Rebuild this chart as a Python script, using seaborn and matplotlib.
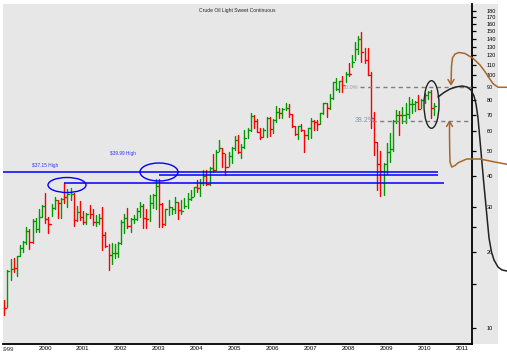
import matplotlib
matplotlib.use("Agg")
import matplotlib.pyplot as plt
import seaborn as sns
import pandas as pd
import numpy as np
from matplotlib.patches import Ellipse, Rectangle
from matplotlib.lines import Line2D
from matplotlib.ticker import NullLocator
from matplotlib.transforms import ScaledTranslation, Bbox, TransformedBbox

# monthly bars, Feb 1999 .. Jun 2010 (month 1 = Feb 1999)
highs = [
    12.9, 17.0, 18.8, 18.9, 19.3, 21.3, 22.1, 25.1, 24.7, 27.0, 27.3,            # 1999
    29.6, 30.7, 34.2, 27.5, 31.0, 33.0, 32.2, 32.7, 37.6, 35.5, 35.9, 34.2,      # 2000
    30.4, 31.8, 29.0, 28.6, 30.7, 29.6, 28.0, 28.3, 30.0, 24.0, 21.5, 21.7,      # 2001
    21.5, 21.9, 26.8, 28.3, 29.9, 27.3, 28.0, 29.9, 31.5, 31.0, 29.6, 33.6,      # 2002
    33.9, 39.0, 38.9, 31.2, 29.6, 32.2, 30.1, 33.0, 31.5, 32.2, 32.7, 34.2,      # 2003
    35.2, 36.2, 38.6, 38.9, 42.3, 42.3, 43.4, 48.9, 50.7, 55.5, 51.7, 48.9,      # 2004
    49.7, 52.0, 57.6, 58.0, 53.5, 60.7, 61.8, 71.0, 70.0, 67.3, 61.8, 61.8,      # 2005
    68.5, 68.5, 67.3, 75.6, 74.4, 74.4, 78.0, 76.9, 70.4, 63.3, 63.3, 64.0,      # 2006
    61.0, 61.8, 68.0, 66.8, 66.8, 71.0, 78.0, 78.0, 84.6, 94.4, 97.8, 95.3,      # 2007
    99.6, 103.4, 112.0, 120.8, 135.8, 143.0, 148.6, 128.5, 128.5, 103.4, 71.6, 54.6,  # 2008
    50.3, 45.0, 54.0, 59.0, 66.7, 72.8, 72.0, 75.0, 77.5, 82.0, 81.0, 79.0,      # 2009
    83.6, 80.7, 85.0, 86.6, 87.7, 77.5,                                          # 2010
]
lows = [
    11.3, 12.1, 15.5, 16.7, 16.1, 19.3, 20.0, 21.5, 20.6, 21.7, 24.1,
    24.1, 27.5, 26.1, 23.8, 27.8, 29.6, 27.3, 27.3, 31.2, 30.1, 32.2, 25.4,
    26.5, 26.8, 25.8, 25.8, 27.3, 25.6, 25.4, 25.8, 20.4, 21.0, 17.0, 17.9,
    19.0, 19.1, 21.5, 23.8, 24.9, 24.0, 26.0, 26.8, 27.5, 24.9, 24.9, 26.5,
    29.8, 29.6, 25.1, 25.1, 25.6, 28.0, 28.3, 28.5, 27.0, 28.3, 29.9, 29.9,
    32.2, 33.3, 34.6, 33.3, 36.8, 36.7, 36.7, 41.6, 42.3, 50.3, 43.4, 40.5,
    44.0, 45.0, 50.7, 49.3, 47.1, 51.7, 56.5, 60.2, 61.8, 59.5, 56.0, 57.0,
    57.0, 57.6, 59.0, 65.6, 68.0, 68.0, 73.0, 68.5, 62.3, 57.9, 56.0, 60.2,
    49.7, 56.0, 56.5, 61.0, 60.7, 64.0, 70.4, 68.5, 73.6, 80.7, 87.8, 86.0,
    86.0, 94.4, 99.6, 108.3, 115.4, 121.8, 113.0, 112.0, 100.4, 61.8, 48.6, 35.3,
    33.3, 33.6, 40.8, 45.4, 50.3, 64.9, 58.0, 65.0, 65.0, 68.0, 71.0, 72.0,
    73.6, 74.4, 77.6, 81.0, 68.0, 70.0,
]
closes = [
    12.0, 16.8, 17.2, 17.3, 19.2, 20.8, 21.9, 24.2, 22.0, 26.5, 24.6,
    27.6, 30.4, 27.0, 25.7, 29.8, 32.0, 31.2, 32.5, 33.0, 34.0, 34.0, 26.8,
    28.7, 27.4, 26.3, 28.3, 28.4, 26.3, 26.4, 27.2, 23.4, 21.2, 19.5, 19.8,
    19.9, 21.7, 26.3, 27.3, 25.3, 26.9, 27.0, 29.0, 30.5, 27.2, 26.9, 31.2,
    33.5, 36.6, 31.0, 25.8, 29.5, 30.2, 29.5, 31.6, 29.2, 29.1, 30.4, 32.5,
    33.0, 36.1, 35.8, 37.4, 39.9, 37.1, 43.0, 42.1, 49.6, 51.8, 49.1, 43.5,
    48.2, 51.7, 55.4, 49.7, 52.0, 56.5, 60.6, 68.9, 66.2, 59.8, 57.3, 61.0,
    67.9, 61.4, 66.6, 71.9, 71.3, 73.9, 74.4, 70.3, 62.9, 58.7, 63.0, 61.0,
    58.1, 61.8, 65.9, 65.7, 64.0, 70.7, 78.0, 74.0, 81.7, 94.0, 88.7, 95.3,
    91.8, 101.8, 101.6, 113.5, 127.4, 140.0, 124.1, 115.5, 100.6, 67.8, 54.4, 44.6,
    41.7, 44.8, 49.7, 51.1, 66.3, 69.9, 69.5, 70.0, 70.6, 77.0, 77.3, 78.8,
    73.8, 79.7, 83.8, 86.2, 74.0, 75.6,
]
# 1 = up month (green), 0 = down month (red)
up = [
    0, 1, 1, 0, 1, 1, 1, 1, 0, 1, 1,
    1, 1, 0, 0, 1, 1, 0, 1, 0, 1, 1, 0,
    1, 0, 0, 1, 0, 0, 1, 1, 0, 0, 0, 1,
    1, 1, 1, 1, 0, 1, 1, 1, 1, 0, 0, 1,
    1, 1, 0, 0, 1, 1, 1, 1, 0, 1, 1, 1,
    1, 1, 0, 1, 1, 0, 1, 0, 1, 1, 0, 0,
    1, 1, 1, 0, 1, 1, 1, 1, 0, 0, 0, 1,
    1, 0, 1, 1, 0, 1, 1, 0, 0, 0, 1, 0,
    0, 1, 1, 0, 0, 1, 1, 0, 1, 1, 1, 1,
    0, 1, 0, 1, 1, 1, 0, 0, 0, 0, 0, 0,
    0, 1, 1, 1, 1, 1, 0, 1, 1, 1, 1, 1,
    0, 1, 1, 1, 0, 1,
]

years = list(range(1999, 2012))
price_ticks = [10, 15, 20, 25, 30, 40, 50, 60, 70, 80, 90, 100,
               110, 120, 130, 140, 150, 160, 170, 180]
price_labels = ["10", "", "20", "", "30", "40", "50", "60", "70", "80", "90", "100",
                "110", "120", "130", "140", "150", "160", "170", "180"]

# horizontal levels drawn on the chart
high_2000 = 37.4
high_2003 = 40.2
upper_level = 41.3
fib_50 = 90.0
fib_382 = 66.3

GREEN = "#009a00"
RED = "#ff0000"
BLUE = "#0000ff"
BROWN = "#a8662e"
BG = "#e7e7e7"

sns.set_style("white")
plt.rcParams["font.family"] = ["Liberation Sans", "DejaVu Sans"]

W, H = 507, 357
fig = plt.figure(figsize=(W / 100, H / 100), dpi=100)
fig.patch.set_facecolor("white")
fig.add_artist(Rectangle((3 / W, 13 / H), 495 / W, 340 / H, transform=fig.transFigure,
                         facecolor=BG, edgecolor="none", zorder=-1))
ax = fig.add_axes([3 / W, 13 / H, 468.7 / W, 340 / H])
ax.set_facecolor("none")

months = np.arange(1, len(highs) + 1)
direction = np.where(np.array(up) == 1, "up", "down")

bars = pd.DataFrame({
    "bar": np.repeat(months, 2),
    "month": np.repeat(months, 2).astype(float),
    "price": np.column_stack([lows, highs]).ravel(),
    "dir": np.repeat(direction, 2),
})
ticks = pd.DataFrame({
    "bar": np.repeat(months, 2),
    "month": np.column_stack([months, months + 0.65]).ravel(),
    "price": np.repeat(closes, 2),
    "dir": np.repeat(direction, 2),
})

pal = {"up": GREEN, "down": RED}
ax.set_yscale("log")
sns.lineplot(data=bars, x="month", y="price", units="bar", hue="dir", estimator=None,
             palette=pal, legend=False, linewidth=1.0, sort=False, ax=ax)
sns.lineplot(data=ticks, x="month", y="price", units="bar", hue="dir", estimator=None,
             palette=pal, legend=False, linewidth=1.0, sort=False, ax=ax)
ax.set_xlabel("")
ax.set_ylabel("")

# axes styling
for side in ["left", "top"]:
    ax.spines[side].set_visible(False)
for side in ["right", "bottom"]:
    ax.spines[side].set_color("black")
    ax.spines[side].set_linewidth(1.3)

ax.yaxis.tick_right()
ax.set_yticks(price_ticks)
ax.set_yticklabels(price_labels)
ax.yaxis.set_minor_locator(NullLocator())
ax.tick_params(axis="y", which="major", direction="out", length=3, width=0.9,
               pad=8, labelsize=4, colors="black")

# year ticks sit just before each January bar
year_pos = [12 * (y - 1999) - 0.7 for y in years]
ax.set_xticks(year_pos[1:])
ax.set_xticklabels([str(y) for y in years[1:]])
ax.tick_params(axis="x", direction="out", length=6.5, width=0.9, pad=-5,
               labelsize=4.4, colors="black")
shift = ScaledTranslation(1.5 / 100, 0, fig.dpi_scale_trans)
for lab in ax.get_xticklabels():
    lab.set_horizontalalignment("left")
    lab.set_transform(lab.get_transform() + shift)

ax.set_xlim(0.62, 148.9)
ax.set_ylim(8.64, 191.9)

# first year label is cut by the left edge of the panel
clip = TransformedBbox(Bbox([[3 / W, 0], [471.7 / W, 1]]), fig.transFigure)
t = ax.text(year_pos[0], -0.0075, str(years[0]), transform=ax.get_xaxis_transform() + shift,
            ha="left", va="top", fontsize=4.4)
t.set_clip_box(clip)
t.set_clip_on(True)

# support / resistance lines
ax.hlines(upper_level, 0.62, 138.2, color=BLUE, lw=1.1, zorder=3)
ax.hlines(high_2003, 50.0, 138.2, color=BLUE, lw=1.1, zorder=3)
ax.hlines(high_2000, 19.9, 140.1, color=BLUE, lw=1.1, zorder=3)
ax.text(9.8, 44.2, "$37.15 High", color="#3030ff", fontsize=3.4, va="center")
ax.text(34.5, 48.9, "$39.99 High", color="#3030ff", fontsize=3.4, va="center")

# retracement levels
ax.hlines(fib_50, 113.5, 148.9, color="#7f7f7f", lw=1.0, linestyles=(0, (3, 2.5)), zorder=3)
ax.hlines(fib_382, 117.5, 148.9, color="#7f7f7f", lw=1.0, linestyles=(0, (3, 2.5)), zorder=3)
ax.text(108.1, fib_50, "50.0%", color="#9a9a9a", fontsize=4, va="center")
ax.text(112.0, fib_382, "38.2%", color="#8a94a8", fontsize=5, va="center")

ax.text(0.5, 0.982, "Crude Oil Light Sweet Continuous", transform=ax.transAxes,
        ha="center", va="center", fontsize=3.6)


# hand-drawn markup, in image pixels
def fig_pts(pts):
    return [p[0] / W for p in pts], [1 - p[1] / H for p in pts]


def draw_path(pts, color, lw=1.1):
    xs, ys = fig_pts(pts)
    fig.add_artist(Line2D(xs, ys, transform=fig.transFigure, color=color, lw=lw,
                          solid_capstyle="round", solid_joinstyle="round", zorder=5))


def ring(cx, cy, w, h, color):
    fig.add_artist(Ellipse((cx / W, 1 - cy / H), w / W, h / H, transform=fig.transFigure,
                           fill=False, edgecolor=color, lw=1.0, zorder=5))


ring(67, 185, 38, 15, BLUE)
ring(159, 172, 38, 18, BLUE)
ring(431.5, 104.5, 15, 47.6, "#222222")

draw_path([(438, 97), (444, 92.5), (450, 89), (456, 87), (462, 86), (467, 87), (471, 90),
           (474, 96), (476, 104), (478, 118), (483.5, 180), (489, 238), (491.5, 252),
           (494, 260), (498, 267), (502, 270), (507, 271)], "#222222")

draw_path([(451, 84), (451.3, 75), (451.5, 66), (452.5, 58), (455, 54), (459, 52.5),
           (465, 53.5), (473, 58.3), (480, 65), (485, 71.7), (489.3, 78.3), (493.3, 84),
           (498.3, 87.3), (507, 87.3)], BROWN)
draw_path([(448, 79.5), (451, 84.5), (454, 79.5)], BROWN)

draw_path([(449.5, 122), (449.5, 135), (449.7, 150), (450, 162), (451.7, 167),
           (455, 165.5), (458.3, 162.7), (466.7, 159), (480, 159), (493.3, 161.7),
           (507, 164.3)], BROWN)
draw_path([(446.5, 126.5), (449.5, 121.5), (452.5, 126.5)], BROWN)

fig.savefig("out.png", dpi=100, facecolor="white")
